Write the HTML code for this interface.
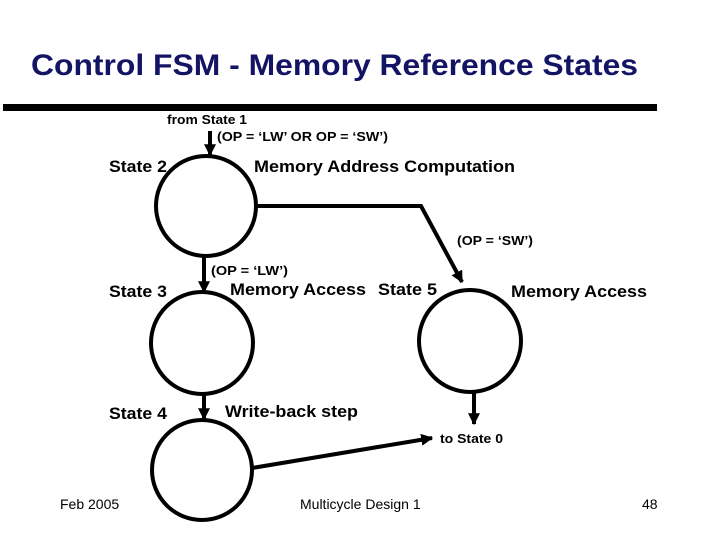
<!DOCTYPE html>
<html><head><style>
body{margin:0;width:720px;height:540px;background:#fff;overflow:hidden}
svg{display:block}
text{font-family:"Liberation Sans",Arial,sans-serif}
.b{font-weight:bold}
</style></head><body>
<svg width="720" height="540" viewBox="0 0 720 540">
<defs>
<marker id="h" viewBox="0 0 10 10" markerWidth="12" markerHeight="12" refX="9" refY="5" orient="auto" markerUnits="userSpaceOnUse"><path d="M0,0 L10,5 L0,10 z" fill="#000"/></marker></defs>
<text x="31" y="75" font-size="29.5" fill="#141464" class="b" textLength="607" lengthAdjust="spacingAndGlyphs">Control FSM - Memory Reference States</text>
<rect x="3" y="104" width="654" height="7" fill="#000"/>
<g fill="none" stroke="#000" stroke-width="4">
<circle cx="206" cy="206" r="50"/>
<circle cx="202" cy="343" r="51"/>
<circle cx="202" cy="470" r="50"/>
<circle cx="470" cy="341" r="51"/>
<polyline points="256,206 421,206 462,282" marker-end="url(#h)"/>
<line x1="210" y1="131" x2="210" y2="155" marker-end="url(#h)"/>
<line x1="204" y1="256" x2="204" y2="292" marker-end="url(#h)"/>
<line x1="204" y1="394" x2="204" y2="419" marker-end="url(#h)"/>
<line x1="474" y1="391" x2="474" y2="424" marker-end="url(#h)"/>
<line x1="252" y1="468" x2="432" y2="438" marker-end="url(#h)"/>
</g>
<g class="b" fill="#000" lengthAdjust="spacingAndGlyphs">
<text x="167" y="124" font-size="13" textLength="80" lengthAdjust="spacingAndGlyphs">from State 1</text>
<text x="217" y="141" font-size="13" textLength="171" lengthAdjust="spacingAndGlyphs">(OP = ‘LW’ OR OP = ‘SW’)</text>
<text x="109" y="172" font-size="17" textLength="58" lengthAdjust="spacingAndGlyphs">State 2</text>
<text x="254" y="172" font-size="17" textLength="261" lengthAdjust="spacingAndGlyphs">Memory Address Computation</text>
<text x="457" y="245" font-size="13" textLength="76" lengthAdjust="spacingAndGlyphs">(OP = ‘SW’)</text>
<text x="211" y="275" font-size="13" textLength="77" lengthAdjust="spacingAndGlyphs">(OP = ‘LW’)</text>
<text x="109" y="297" font-size="17" textLength="58" lengthAdjust="spacingAndGlyphs">State 3</text>
<text x="230" y="295" font-size="17" textLength="136" lengthAdjust="spacingAndGlyphs">Memory Access</text>
<text x="378" y="295" font-size="17" textLength="59" lengthAdjust="spacingAndGlyphs">State 5</text>
<text x="511" y="297" font-size="17" textLength="136" lengthAdjust="spacingAndGlyphs">Memory Access</text>
<text x="109" y="419" font-size="17" textLength="58" lengthAdjust="spacingAndGlyphs">State 4</text>
<text x="225" y="417" font-size="17" textLength="133" lengthAdjust="spacingAndGlyphs">Write-back step</text>
<text x="440" y="443" font-size="13" textLength="63" lengthAdjust="spacingAndGlyphs">to State 0</text>
</g>
<text x="60" y="509" font-size="14">Feb 2005</text>
<text x="300" y="509" font-size="14">Multicycle Design 1</text>
<text x="642" y="509" font-size="14">48</text>
</svg>
</body></html>
